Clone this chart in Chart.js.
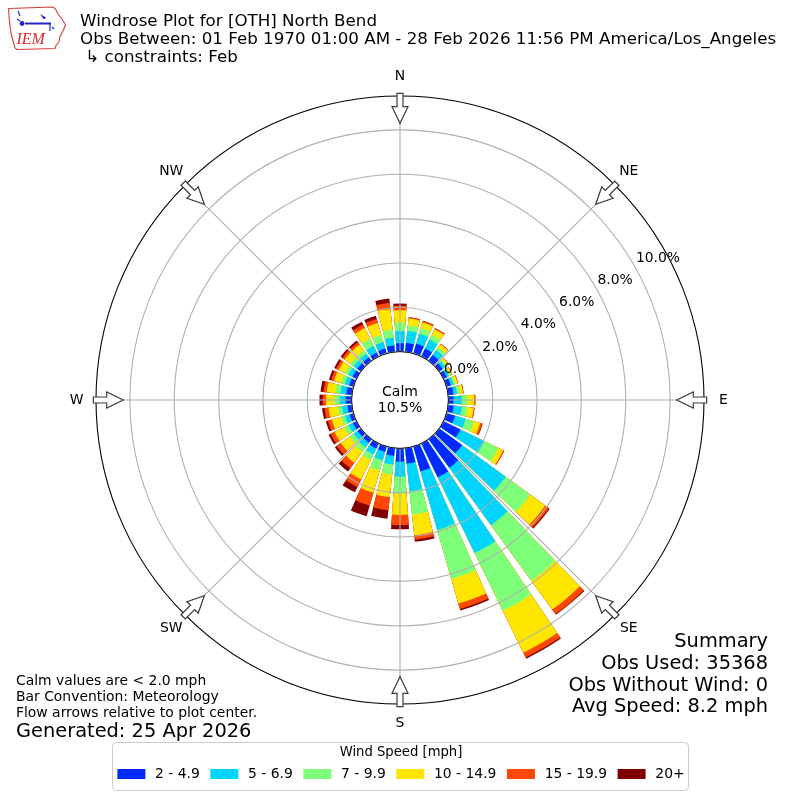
<!DOCTYPE html>
<html>
<head>
<meta charset="utf-8">
<style>
html,body{margin:0;padding:0;background:#ffffff;}
#wrap{width:800px;height:800px;position:relative;}
</style>
<script src="https://cdn.jsdelivr.net/npm/chart.js@4/dist/chart.umd.min.js"></script>
</head>
<body>
<div id="wrap"><canvas id="c" width="800" height="800"></canvas></div>
<script>
// ---------------- data ----------------
const directions = [0,10,20,30,40,50,60,70,80,90,100,110,120,130,140,150,160,170,180,190,200,210,220,230,240,250,260,270,280,290,300,310,320,330,340,350];
const speedLabels = ['2 - 4.9','5 - 6.9','7 - 9.9','10 - 14.9','15 - 19.9','20+'];
const speedColors = ['#002aff','#00d4ff','#7dff7a','#ffe600','#ff4800','#800000'];
// percent of observations per direction, per speed bin
const bin_2_5   = [0.38,0.41,0.46,0.40,0.32,0.20,0.17,0.20,0.24,0.23,0.25,0.40,0.85,1.28,1.60,1.70,1.17,0.70,0.60,0.35,0.25,0.25,0.20,0.18,0.18,0.18,0.20,0.27,0.25,0.20,0.20,0.20,0.20,0.20,0.23,0.29];
const bin_5_7   = [0.55,0.54,0.47,0.45,0.28,0.14,0.11,0.13,0.16,0.38,0.38,0.50,1.20,2.43,3.20,3.80,2.75,1.25,0.68,0.40,0.40,0.30,0.25,0.22,0.22,0.22,0.24,0.27,0.27,0.20,0.20,0.20,0.20,0.33,0.31,0.35];
const bin_7_10  = [0.38,0.25,0.25,0.24,0.15,0.09,0.07,0.09,0.12,0.23,0.25,0.38,0.70,1.37,3.10,2.90,2.30,1.05,0.75,0.45,0.47,0.28,0.25,0.22,0.22,0.20,0.20,0.23,0.22,0.18,0.18,0.18,0.18,0.35,0.34,0.37];
const bin_10_15 = [0.56,0.31,0.28,0.28,0.17,0.10,0.08,0.11,0.15,0.33,0.28,0.30,0.25,0.84,1.60,2.10,1.15,0.95,0.97,1.02,1.05,0.97,0.62,0.50,0.48,0.42,0.42,0.38,0.40,0.33,0.32,0.33,0.33,0.55,0.55,0.94];
const bin_15_20 = [0.21,0.05,0.07,0.05,0.03,0.02,0.02,0.02,0.03,0.05,0.04,0.10,0.05,0.20,0.25,0.24,0.25,0.20,0.46,0.60,0.60,0.38,0.30,0.22,0.20,0.18,0.18,0.15,0.15,0.14,0.13,0.13,0.13,0.17,0.19,0.28];
const bin_20p   = [0.09,0.01,0.01,0.01,0.00,0.00,0.00,0.00,0.00,0.00,0.00,0.02,0.00,0.05,0.04,0.06,0.07,0.10,0.19,0.38,0.50,0.27,0.18,0.11,0.10,0.10,0.11,0.15,0.13,0.10,0.09,0.09,0.09,0.15,0.15,0.19];
const speedBins = [bin_2_5, bin_5_7, bin_7_10, bin_10_15, bin_15_20, bin_20p];

const ringTicks = [0,2,4,6,8,10];
const compassLabels = ['N','NE','E','SE','S','SW','W','NW'];
const calmLabel = ['Calm','10.5%'];
const titleLines = ['Windrose Plot for [OTH] North Bend',
  'Obs Between: 01 Feb 1970 01:00 AM - 28 Feb 2026 11:56 PM America/Los_Angeles',
  ' \u21b3 constraints: Feb'];
const summaryLines = ['Summary','Obs Used: 35368','Obs Without Wind: 0','Avg Speed: 8.2 mph'];
const noteLines = ['Calm values are < 2.0 mph','Bar Convention: Meteorology','Flow arrows relative to plot center.'];
const generatedLine = 'Generated: 25 Apr 2026';
const legendTitle = 'Wind Speed [mph]';

// ---------------- scale / geometry settings ----------------
const R_MIN = -2.183;   // value at centre (calm hole)
const R_MAX = 11.53;    // value at outer circle
const BAR_DEG = 8, GAP_DEG = 2;
const START_ANGLE = -BAR_DEG / 2;
const angleSlots = Array.from({length: 360}, () => '');
const FONT = '"DejaVu Sans", "Liberation Sans", sans-serif';

// stacked (cumulative) values, interleaved with empty gap slices
const datasets = speedBins.map((bin, k) => {
  const data = [];
  directions.forEach((d, i) => {
    let cum = 0;
    for (let j = 0; j <= k; j++) cum += speedBins[j][i];
    data.push(cum);
    data.push(R_MIN);
  });
  const color = speedColors[k];
  return {
    label: speedLabels[k],
    data,
    backgroundColor: (ctx) => (ctx.dataIndex % 2 === 0 ? color : 'rgba(0,0,0,0)'),
    borderWidth: 0,
    angle: (ctx) => (ctx.dataIndex % 2 === 0 ? BAR_DEG : GAP_DEG)
  };
});

function compassIndex(m) { return (m * 45 - START_ANGLE) % 360; }

function drawArrow(ctx, tail, tip) {
  const dx = tip.x - tail.x, dy = tip.y - tail.y;
  const L = Math.hypot(dx, dy);
  const ux = dx / L, uy = dy / L, px = -uy, py = ux;
  const shaft = 13.4, hw = 3, hh = 8;
  const pts = [[0,-hw],[shaft,-hw],[shaft,-hh],[L,0],[shaft,hh],[shaft,hw],[0,hw]];
  ctx.beginPath();
  pts.forEach(([u, v], i) => {
    const x = tail.x + ux * u + px * v, y = tail.y + uy * u + py * v;
    if (i === 0) ctx.moveTo(x, y); else ctx.lineTo(x, y);
  });
  ctx.closePath();
  ctx.fillStyle = '#ffffff';
  ctx.fill();
  ctx.strokeStyle = '#3a3a3a';
  ctx.lineWidth = 1.2;
  ctx.stroke();
}

function drawLogo(ctx) {
  ctx.save();
  ctx.beginPath();
  const outline = [[8.5,8.5],[53,7],[55.5,9],[58,14],[62,19],[65.5,25],[63,31],[60,36.5],[59,42],[56,45.5],[55,48.5],[17,49.5],[15,48],[13,41],[11,33],[9.5,22],[8.5,8.5]];
  outline.forEach(([x, y], i) => (i ? ctx.lineTo(x, y) : ctx.moveTo(x, y)));
  ctx.strokeStyle = '#d23c3c';
  ctx.lineWidth = 1.1;
  ctx.stroke();
  ctx.strokeStyle = '#2222cc';
  ctx.fillStyle = '#2222cc';
  ctx.lineWidth = 2;
  ctx.beginPath(); ctx.moveTo(25, 23.5); ctx.lineTo(51, 23.5); ctx.stroke();
  ctx.lineWidth = 1.2;
  ctx.beginPath(); ctx.moveTo(50, 23.5); ctx.lineTo(50, 31); ctx.stroke();
  ctx.beginPath(); ctx.arc(22, 23.5, 2.4, 0, Math.PI * 2); ctx.fill();
  ctx.beginPath(); ctx.moveTo(40, 14); ctx.lineTo(46, 17.5); ctx.lineTo(44, 19.5); ctx.closePath(); ctx.fill();
  ctx.beginPath(); ctx.moveTo(18, 11); ctx.lineTo(20, 16); ctx.stroke();
  ctx.beginPath(); ctx.moveTo(17, 19); ctx.lineTo(20, 21); ctx.stroke();
  ctx.beginPath(); ctx.moveTo(52, 27); ctx.lineTo(54, 29); ctx.stroke();
  ctx.fillStyle = '#d42a2a';
  ctx.font = 'italic 16px "Liberation Serif", "DejaVu Serif", serif';
  ctx.textAlign = 'left';
  ctx.textBaseline = 'alphabetic';
  ctx.fillText('IEM', 16.5, 43.5);
  ctx.restore();
}

const decorations = {
  id: 'windroseDecor',
  afterDraw(chart) {
    const ctx = chart.ctx;
    const scale = chart.scales.r;
    const cx = scale.xCenter, cy = scale.yCenter;
    ctx.save();

    // calm circle
    const calmR = scale.getDistanceFromCenterForValue(0);
    ctx.beginPath();
    ctx.arc(cx, cy, calmR, 0, Math.PI * 2);
    ctx.fillStyle = '#ffffff';
    ctx.fill();
    ctx.strokeStyle = '#000000';
    ctx.lineWidth = 1;
    ctx.stroke();
    ctx.fillStyle = '#000000';
    ctx.font = '14px ' + FONT;
    ctx.textAlign = 'center';
    ctx.textBaseline = 'middle';
    ctx.fillText(calmLabel[0], cx, cy - 8);
    ctx.fillText(calmLabel[1], cx, cy + 8);

    // ring labels
    ctx.font = '13.9px ' + FONT;
    ctx.textAlign = 'left';
    ctx.textBaseline = 'alphabetic';
    const a = 30 * Math.PI / 180;
    ringTicks.forEach((v) => {
      const rr = scale.getDistanceFromCenterForValue(v);
      ctx.fillText(v.toFixed(1) + '%', cx + rr * Math.cos(a) + 2, cy - rr * Math.sin(a) - 3);
    });

    // compass arrows and labels
    compassLabels.forEach((lab, m) => {
      const idx = compassIndex(m);
      const tail = scale.getPointPosition(idx, scale.drawingArea + 2.7);
      const tip = scale.getPointPosition(idx, scale.drawingArea - 27.3);
      drawArrow(ctx, tail, tip);
      const p = scale.getPointPosition(idx, scale.drawingArea + 19.5);
      ctx.fillStyle = '#000000';
      ctx.font = '13.9px ' + FONT;
      ctx.textAlign = 'center';
      ctx.textBaseline = 'middle';
      ctx.fillText(lab, p.x, p.y);
    });

    // title
    ctx.fillStyle = '#000000';
    ctx.font = '16.7px ' + FONT;
    ctx.textAlign = 'left';
    ctx.textBaseline = 'alphabetic';
    const tb = [25.5, 44, 62];
    titleLines.forEach((t, i) => ctx.fillText(t, 80, tb[i]));
    drawLogo(ctx);

    // notes bottom-left
    ctx.font = '13.9px ' + FONT;
    const nb = [684.5, 701, 717];
    noteLines.forEach((t, i) => ctx.fillText(t, 16, nb[i]));
    ctx.font = '19.4px ' + FONT;
    ctx.fillText(generatedLine, 16, 737);

    // summary bottom-right
    ctx.textAlign = 'right';
    const sb = [647, 669, 690.5, 712];
    summaryLines.forEach((t, i) => ctx.fillText(t, 768, sb[i]));

    // legend
    const bx = 112.5, by = 742.5, bw = 576, bh = 48;
    ctx.beginPath();
    if (ctx.roundRect) ctx.roundRect(bx, by, bw, bh, 4); else ctx.rect(bx, by, bw, bh);
    ctx.fillStyle = 'rgba(255,255,255,0.8)';
    ctx.fill();
    ctx.strokeStyle = '#cccccc';
    ctx.lineWidth = 1;
    ctx.stroke();
    ctx.fillStyle = '#000000';
    ctx.font = '13.2px ' + FONT;
    ctx.textAlign = 'center';
    ctx.textBaseline = 'middle';
    ctx.fillText(legendTitle, 401, 753);
    ctx.font = '13.9px ' + FONT;
    const sw = 28, pad = 9.7, colSp = 10.5;
    const items = chart.data.datasets.map((ds, k) => ({label: ds.label, color: speedColors[k], w: ctx.measureText(ds.label).width}));
    let total = 0;
    items.forEach((it, k) => { total += sw + pad + it.w + (k < items.length - 1 ? colSp : 0); });
    let x = 401 - total / 2;
    ctx.textAlign = 'left';
    items.forEach((it) => {
      ctx.fillStyle = it.color;
      ctx.fillRect(x, 769, sw, 10);
      ctx.fillStyle = '#000000';
      ctx.fillText(it.label, x + sw + pad, 774.5);
      x += sw + pad + it.w + colSp;
    });

    ctx.restore();
  }
};

new Chart(document.getElementById('c'), {
  type: 'polarArea',
  data: { labels: angleSlots, datasets },
  options: {
    responsive: false,
    animation: false,
    events: [],
    layout: { padding: 96 },
    plugins: { legend: { display: false }, tooltip: { enabled: false }, title: { display: false } },
    scales: {
      r: {
        type: 'radialLinear',
        min: R_MIN,
        max: R_MAX,
        startAngle: START_ANGLE,
        afterBuildTicks: (sc) => { sc.ticks = ringTicks.concat([R_MAX]).map(v => ({value: v})); },
        ticks: { display: false },
        pointLabels: { display: false },
        grid: {
          circular: true,
          z: 1,
          color: (ctx) => (ctx.tick && ctx.tick.value === R_MAX ? '#000000' : '#b0b0b0'),
          lineWidth: (ctx) => (ctx.tick && ctx.tick.value === R_MAX ? 1.1 : 1.1)
        },
        angleLines: {
          display: true,
          color: '#b0b0b0',
          lineWidth: (ctx) => (ctx.index % 45 === compassIndex(0) ? 1.1 : 0)
        }
      }
    }
  },
  plugins: [decorations]
});
</script>
</body>
</html>
